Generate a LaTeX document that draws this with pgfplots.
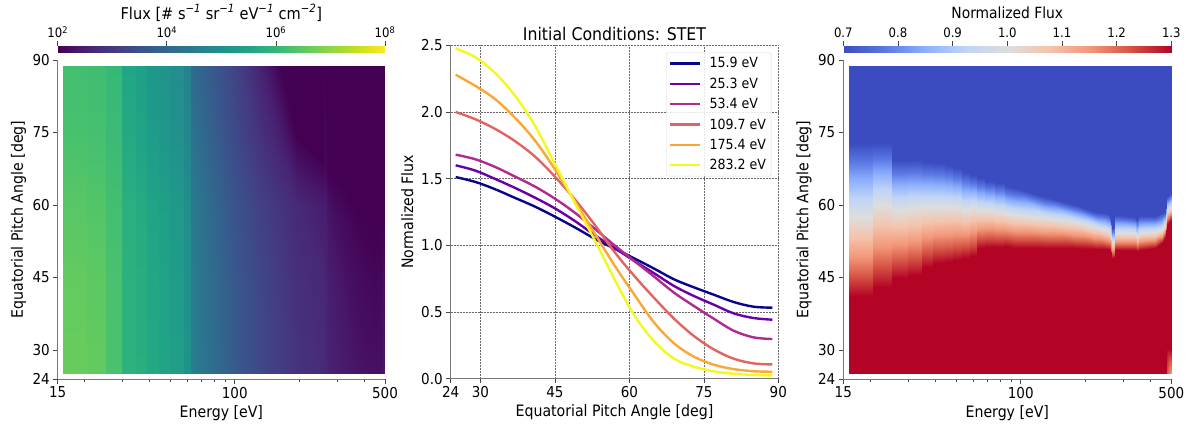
\documentclass[border=0pt]{standalone}
\usepackage{fontspec}
\setmainfont{DejaVu Sans Condensed}
\usepackage{pgfplots}
\pgfplotsset{compat=1.18}
\definecolor{spine}{RGB}{120,120,120}
\definecolor{tickc}{RGB}{70,70,70}
\definecolor{gridc}{RGB}{105,105,105}
\definecolor{c1}{RGB}{8,4,140}
\definecolor{c2}{RGB}{106,0,168}
\definecolor{c3}{RGB}{177,42,144}
\definecolor{c4}{RGB}{225,100,98}
\definecolor{c5}{RGB}{252,166,54}
\definecolor{c6}{RGB}{243,248,33}
\pgfplotsset{
  colormap={coolw}{
    rgb255=(59,76,192) rgb255=(89,119,226) rgb255=(141,176,254) rgb255=(192,212,245)
    rgb255=(221,221,221) rgb255=(244,196,173) rgb255=(244,152,122) rgb255=(213,84,67) rgb255=(180,4,38)},
  mybase/.style={
    scale only axis,
    font=\fontsize{15.5}{18}\selectfont,
    tick label style={font=\fontsize{15}{17}\selectfont},
    label style={font=\fontsize{15.7}{18}\selectfont},
    axis x line*=bottom, axis y line*=left,
    axis line style={spine,line width=0.9pt,-},
    major tick style={tickc,line width=0.6pt},
    minor tick style={tickc,line width=0.5pt},
    tick align=outside,
    major tick length=4.5pt, minor tick length=2.5pt,
    xlabel style={yshift=0pt},
    ylabel style={yshift=1pt},
  },
  myheat/.style={
    mybase,
    view={0}{90},
    ymin=24, ymax=90,
    zmin=-1, zmax=1,
    axis z line=none,
    xtick={15,100,500}, xticklabels={15,100,500},
    minor xtick={20,30,40,50,60,70,80,90,200,300,400},
    ytick={24,30,45,60,75,90}, yticklabels={24,30,45,60,75,90},
    xlabel={Energy [eV]},
    ylabel={Equatorial Pitch Angle [deg]},
    ylabel style={yshift=-1.5pt},
  },
  mybar/.style={
    scale only axis,
    view={0}{90},
    height=6.6pt,
    ymin=0, ymax=1, zmin=-1, zmax=1,
    axis z line=none,
    axis y line=none,
    axis x line*=top,
    axis line style={draw=none},
    ytick=\empty,
    xticklabel pos=upper, xtick pos=upper,
    tick align=outside,
    major tick length=4.5pt,
    major tick style={tickc,line width=0.6pt},
    tick label style={font=\fontsize{13}{15}\selectfont},
  },
  mycurve/.style={#1,line width=2.4pt,smooth,tension=0.55},
}
\begin{document}
\begin{tikzpicture}
\path[use as bounding box] (0,0) rectangle (1189pt,432pt);

% ---------- left colour bar ----------
\begin{axis}[mybar, at={(57.7pt,379.7pt)}, anchor=south west, width=327.3pt,
  xmin=2, xmax=8, colormap/viridis, point meta min=2, point meta max=8,
  xtick={2,4,6,8},
  xticklabels={10\textsuperscript{2},10\textsuperscript{4},10\textsuperscript{6},10\textsuperscript{8}},
  title={Flux [\# s\textsuperscript{\textit{−1}} sr\textsuperscript{\textit{−1}} eV\textsuperscript{\textit{−1}} cm\textsuperscript{\textit{−2}}]},
  title style={font=\fontsize{16.2}{18}\selectfont,yshift=15pt},
]
\addplot3[surf, shader=interp, mesh/rows=2, mesh/ordering=y varies, point meta=x]
 coordinates {(2,0,0)(2,1,0)(8,0,0)(8,1,0)};
\end{axis}

% ---------- left panel ----------
\begin{axis}[myheat, xmode=log, xmin=15, xmax=500, at={(57.7pt,53pt)}, anchor=south west, width=327.3pt, height=319pt,
  colormap/viridis, point meta min=2, point meta max=8,
]
\addplot3[surf, shader=interp, mesh/rows=5, mesh/ordering=y varies, point meta=explicit]
 table[row sep=crcr, x=E, y=a, z expr=0, meta=v] {
E a v\\
15.9 25.2 6.62\\ 15.9 45 6.56\\ 15.9 60 6.44\\ 15.9 75 6.26\\ 15.9 88.8 6.20\\
20.55 25.2 6.62\\ 20.55 45 6.56\\ 20.55 60 6.44\\ 20.55 75 6.26\\ 20.55 88.8 6.20\\
20.6 25.2 6.56\\ 20.6 45 6.50\\ 20.6 60 6.38\\ 20.6 75 6.22\\ 20.6 88.8 6.16\\
25.25 25.2 6.56\\ 25.25 45 6.50\\ 25.25 60 6.38\\ 25.25 75 6.22\\ 25.25 88.8 6.16\\
25.3 25.2 6.29\\ 25.3 45 6.27\\ 25.3 60 6.20\\ 25.3 75 6.08\\ 25.3 88.8 6.03\\
29.95 25.2 6.29\\ 29.95 45 6.27\\ 29.95 60 6.20\\ 29.95 75 6.08\\ 29.95 88.8 6.03\\
30 25.2 5.87\\ 30 45 5.84\\ 30 60 5.78\\ 30 75 5.62\\ 30 88.8 5.54\\
34.65 25.2 5.87\\ 34.65 45 5.84\\ 34.65 60 5.78\\ 34.65 75 5.62\\ 34.65 88.8 5.54\\
34.7 25.2 5.75\\ 34.7 45 5.72\\ 34.7 60 5.65\\ 34.7 75 5.47\\ 34.7 88.8 5.39\\
39.05 25.2 5.75\\ 39.05 45 5.72\\ 39.05 60 5.65\\ 39.05 75 5.47\\ 39.05 88.8 5.39\\
39.1 25.2 5.60\\ 39.1 45 5.56\\ 39.1 60 5.48\\ 39.1 75 5.28\\ 39.1 88.8 5.18\\
44.45 25.2 5.60\\ 44.45 45 5.56\\ 44.45 60 5.48\\ 44.45 75 5.28\\ 44.45 88.8 5.18\\
44.5 25.2 5.51\\ 44.5 45 5.46\\ 44.5 60 5.38\\ 44.5 75 5.18\\ 44.5 88.8 5.09\\
49.95 25.2 5.51\\ 49.95 45 5.46\\ 49.95 60 5.38\\ 49.95 75 5.18\\ 49.95 88.8 5.09\\
50 25.2 5.36\\ 50 45 5.30\\ 50 60 5.22\\ 50 75 5.02\\ 50 88.8 4.94\\
57.95 25.2 5.36\\ 57.95 45 5.30\\ 57.95 60 5.22\\ 57.95 75 5.02\\ 57.95 88.8 4.94\\
58 25.2 5.06\\ 58 45 5.00\\ 58 60 4.92\\ 58 75 4.72\\ 58 88.8 4.64\\
62.65 25.2 5.06\\ 62.65 45 5.00\\ 62.65 60 4.92\\ 62.65 75 4.72\\ 62.65 88.8 4.64\\
62.7 25.2 4.58\\ 62.7 45 4.55\\ 62.7 60 4.48\\ 62.7 75 4.30\\ 62.7 88.8 4.10\\
75 25.2 4.22\\ 75 45 4.18\\ 75 60 4.10\\ 75 75 3.90\\ 75 88.8 3.75\\
100 25.2 3.68\\ 100 45 3.62\\ 100 60 3.52\\ 100 75 3.30\\ 100 88.8 3.20\\
130 25.2 3.32\\ 130 45 3.27\\ 130 60 3.15\\ 130 75 2.85\\ 130 88.8 2.60\\
160 25.2 3.08\\ 160 45 3.02\\ 160 60 2.90\\ 160 75 2.50\\ 160 88.8 2.02\\
195 25.2 2.87\\ 195 45 2.80\\ 195 60 2.68\\ 195 74.1 2.00\\ 195 88.8 2.00\\
257 25.2 2.72\\ 257 45 2.66\\ 257 60 2.45\\ 257 68.7 2.00\\ 257 88.8 2.00\\
264 25.2 2.66\\ 264 45 2.62\\ 264 60 2.48\\ 264 69 2.12\\ 264 88.8 2.00\\
272 25.2 2.58\\ 272 45 2.50\\ 272 60 2.28\\ 272 66.5 2.00\\ 272 88.8 2.00\\
300 25.2 2.48\\ 300 45 2.38\\ 300 58 2.20\\ 300 64.9 2.00\\ 300 88.8 2.00\\
350 25.2 2.36\\ 350 45 2.20\\ 350 55 2.10\\ 350 60.7 2.00\\ 350 88.8 2.00\\
400 25.2 2.27\\ 400 45 2.13\\ 400 52 2.04\\ 400 58.5 2.00\\ 400 88.8 2.00\\
450 25.2 2.24\\ 450 45 2.08\\ 450 50 2.02\\ 450 56.5 2.00\\ 450 88.8 2.00\\
485 25.2 2.26\\ 485 45 2.12\\ 485 50 2.05\\ 485 55.5 2.00\\ 485 88.8 2.00\\
490 25.2 2.36\\ 490 45 2.22\\ 490 50 2.12\\ 490 57 2.00\\ 490 88.8 2.00\\
500 25.2 2.36\\ 500 45 2.22\\ 500 50 2.12\\ 500 57 2.00\\ 500 88.8 2.00\\
};
\end{axis}

% ---------- centre panel ----------
\begin{axis}[mybase, at={(450.7pt,53.3pt)}, anchor=south west, width=327.6pt, height=333.4pt,
  xmin=24, xmax=90, ymin=0, ymax=2.5,
  xtick={24,30,45,60,75,90}, xticklabels={24,30,45,60,75,90},
  ytick={0,0.5,1,1.5,2,2.5}, yticklabels={0.0,0.5,1.0,1.5,2.0,2.5},
  grid=major,
  grid style={gridc,line width=0.5pt,densely dotted},
  xlabel={Equatorial Pitch Angle [deg]},
  ylabel={Normalized Flux},
  title={Initial Conditions: STET},
  title style={font=\fontsize{17.5}{20}\selectfont,yshift=-4.5pt},
  legend style={at={(1,1)},anchor=north east,xshift=-7pt,yshift=-7pt,
    draw=black!15,rounded corners=2pt,fill=white,fill opacity=0.85,text opacity=1,
    font=\fontsize{14}{15}\selectfont,inner xsep=3pt,inner ysep=3pt,
    row sep=4.5pt},
  legend cell align=left,
  legend image code/.code={\draw[#1,sharp plot] (0pt,0pt)--(30pt,0pt); \path (36pt,0pt);},
]
\addplot[mycurve=c1] coordinates {(25,1.512)(29,1.475)(33,1.42)(37,1.355)(41,1.29)(45,1.215)(49,1.135)(53,1.05)(57,0.975)(61,0.902)(65,0.825)(69,0.745)(73,0.685)(77,0.63)(81,0.575)(85,0.54)(88.8,0.5325)};
\addplot[mycurve=c2] coordinates {(25,1.6)(29,1.56)(33,1.497)(37,1.43)(41,1.357)(45,1.277)(49,1.183)(53,1.077)(57,0.98)(61,0.883)(65,0.79)(69,0.695)(73,0.62)(77,0.555)(81,0.49)(85,0.455)(88.8,0.4425)};
\addplot[mycurve=c3] coordinates {(25,1.68)(29,1.645)(33,1.587)(37,1.515)(41,1.44)(45,1.35)(49,1.245)(53,1.125)(57,1.0)(61,0.882)(65,0.765)(69,0.645)(73,0.545)(77,0.45)(81,0.36)(85,0.31)(88.8,0.2975)};
\addplot[mycurve=c4] coordinates {(25,2.0)(29,1.945)(33,1.872)(37,1.78)(41,1.665)(45,1.515)(49,1.345)(53,1.155)(57,0.95)(61,0.77)(65,0.605)(69,0.45)(73,0.32)(77,0.22)(81,0.15)(85,0.115)(88.8,0.107)};
\addplot[mycurve=c5] coordinates {(25,2.279)(29,2.195)(33,2.095)(37,1.955)(41,1.785)(45,1.57)(49,1.33)(53,1.09)(57,0.85)(61,0.63)(65,0.42)(69,0.265)(73,0.165)(77,0.105)(81,0.072)(85,0.056)(88.8,0.052)};
\addplot[mycurve=c6] coordinates {(25,2.477)(29,2.41)(33,2.29)(37,2.12)(41,1.895)(45,1.61)(49,1.32)(53,1.04)(57,0.745)(61,0.475)(65,0.28)(69,0.15)(73,0.09)(77,0.055)(81,0.037)(85,0.028)(88.8,0.025)};
\legend{15.9 eV,25.3 eV,53.4 eV,109.7 eV,175.4 eV,283.2 eV}
\end{axis}

% ---------- right colour bar ----------
\begin{axis}[mybar, at={(843.3pt,379.7pt)}, anchor=south west, width=328pt,
  xmin=0.7, xmax=1.3, colormap name=coolw, point meta min=0.7, point meta max=1.3,
  xtick={0.7,0.8,0.9,1.0,1.1,1.2,1.3},
  xticklabels={0.7,0.8,0.9,1.0,1.1,1.2,1.3},
  title={Normalized Flux},
  title style={font=\fontsize{15.4}{18}\selectfont,yshift=17pt},
]
\addplot3[surf, shader=interp, mesh/rows=2, mesh/ordering=y varies, point meta=x]
 coordinates {(0.7,0,0)(0.7,1,0)(1.3,0,0)(1.3,1,0)};
\end{axis}

% ---------- right panel ----------
\begin{axis}[myheat, xmode=log, xmin=15, xmax=500, at={(843.3pt,53pt)}, anchor=south west, width=328pt, height=319pt,
  colormap name=coolw, point meta min=0.7, point meta max=1.3,
]
\addplot3[surf, shader=interp, mesh/rows=6, mesh/ordering=y varies, point meta=explicit]
 table[row sep=crcr, x=E, y=a, z expr=0, meta=v] {
E a v\\
15.9 25.2 1.3\\ 15.9 30.3 1.3\\ 15.9 41.2 1.3\\ 15.9 57.6 1.0\\ 15.9 72.8 0.7\\ 15.9 88.8 0.7\\
20.55 25.2 1.3\\ 20.55 30.3 1.3\\ 20.55 41.2 1.3\\ 20.55 57.6 1.0\\ 20.55 72.8 0.7\\ 20.55 88.8 0.7\\
20.6 25.2 1.3\\ 20.6 30.3 1.3\\ 20.6 43.1 1.3\\ 20.6 60.0 1.0\\ 20.6 72.8 0.7\\ 20.6 88.8 0.7\\
25.25 25.2 1.3\\ 25.25 30.3 1.3\\ 25.25 43.1 1.3\\ 25.25 60.0 1.0\\ 25.25 72.8 0.7\\ 25.25 88.8 0.7\\
25.3 25.2 1.3\\ 25.3 30.3 1.3\\ 25.3 44.9 1.3\\ 25.3 59.0 1.0\\ 25.3 69.3 0.7\\ 25.3 88.8 0.7\\
29.95 25.2 1.3\\ 29.95 30.3 1.3\\ 29.95 44.9 1.3\\ 29.95 59.0 1.0\\ 29.95 69.3 0.7\\ 29.95 88.8 0.7\\
30 25.2 1.3\\ 30 30.3 1.3\\ 30 45.5 1.3\\ 30 59.4 1.0\\ 30 69.3 0.7\\ 30 88.8 0.7\\
34.65 25.2 1.3\\ 34.65 30.3 1.3\\ 34.65 45.5 1.3\\ 34.65 59.4 1.0\\ 34.65 69.3 0.7\\ 34.65 88.8 0.7\\
34.7 25.2 1.3\\ 34.7 30.3 1.3\\ 34.7 47.2 1.3\\ 34.7 59.6 1.0\\ 34.7 68.9 0.7\\ 34.7 88.8 0.7\\
39.05 25.2 1.3\\ 39.05 30.3 1.3\\ 39.05 47.2 1.3\\ 39.05 59.6 1.0\\ 39.05 68.9 0.7\\ 39.05 88.8 0.7\\
39.1 25.2 1.3\\ 39.1 30.3 1.3\\ 39.1 48.0 1.3\\ 39.1 59.6 1.0\\ 39.1 68.7 0.7\\ 39.1 88.8 0.7\\
44.45 25.2 1.3\\ 44.45 30.3 1.3\\ 44.45 48.0 1.3\\ 44.45 59.6 1.0\\ 44.45 68.7 0.7\\ 44.45 88.8 0.7\\
44.5 25.2 1.3\\ 44.5 30.3 1.3\\ 44.5 48.2 1.3\\ 44.5 59.6 1.0\\ 44.5 68.3 0.7\\ 44.5 88.8 0.7\\
48.45 25.2 1.3\\ 48.45 30.3 1.3\\ 48.45 48.2 1.3\\ 48.45 59.6 1.0\\ 48.45 68.3 0.7\\ 48.45 88.8 0.7\\
48.5 25.2 1.3\\ 48.5 30.3 1.3\\ 48.5 48.6 1.3\\ 48.5 59.6 1.0\\ 48.5 67.7 0.7\\ 48.5 88.8 0.7\\
53.35 25.2 1.3\\ 53.35 30.3 1.3\\ 53.35 48.6 1.3\\ 53.35 59.6 1.0\\ 53.35 67.7 0.7\\ 53.35 88.8 0.7\\
53.4 25.2 1.3\\ 53.4 30.3 1.3\\ 53.4 49.0 1.3\\ 53.4 59.0 1.0\\ 53.4 66.8 0.7\\ 53.4 88.8 0.7\\
58.05 25.2 1.3\\ 58.05 30.3 1.3\\ 58.05 49.0 1.3\\ 58.05 59.0 1.0\\ 58.05 66.8 0.7\\ 58.05 88.8 0.7\\
58.1 25.2 1.3\\ 58.1 30.3 1.3\\ 58.1 49.4 1.3\\ 58.1 59.4 1.0\\ 58.1 66.2 0.7\\ 58.1 88.8 0.7\\
62.55 25.2 1.3\\ 62.55 30.3 1.3\\ 62.55 49.4 1.3\\ 62.55 59.4 1.0\\ 62.55 66.2 0.7\\ 62.55 88.8 0.7\\
62.6 25.2 1.3\\ 62.6 30.3 1.3\\ 62.6 51.1 1.3\\ 62.6 59.0 1.0\\ 62.6 65.6 0.7\\ 62.6 88.8 0.7\\
68.15 25.2 1.3\\ 68.15 30.3 1.3\\ 68.15 51.1 1.3\\ 68.15 59.0 1.0\\ 68.15 65.6 0.7\\ 68.15 88.8 0.7\\
68.2 25.2 1.3\\ 68.2 30.3 1.3\\ 68.2 51.3 1.3\\ 68.2 58.9 1.0\\ 68.2 65.0 0.7\\ 68.2 88.8 0.7\\
75.85 25.2 1.3\\ 75.85 30.3 1.3\\ 75.85 51.3 1.3\\ 75.85 58.9 1.0\\ 75.85 65.0 0.7\\ 75.85 88.8 0.7\\
75.9 25.2 1.3\\ 75.9 30.3 1.3\\ 75.9 51.3 1.3\\ 75.9 58.6 1.0\\ 75.9 64.6 0.7\\ 75.9 88.8 0.7\\
84.55 25.2 1.3\\ 84.55 30.3 1.3\\ 84.55 51.3 1.3\\ 84.55 58.6 1.0\\ 84.55 64.6 0.7\\ 84.55 88.8 0.7\\
84.6 25.2 1.3\\ 84.6 30.3 1.3\\ 84.6 51.5 1.3\\ 84.6 58.4 1.0\\ 84.6 64.0 0.7\\ 84.6 88.8 0.7\\
94 25.2 1.3\\ 94 30.3 1.3\\ 94 51.1 1.3\\ 94 57.9 1.0\\ 94 63.5 0.7\\ 94 88.8 0.7\\
129.6 25.2 1.3\\ 129.6 30.3 1.3\\ 129.6 51.1 1.3\\ 129.6 57.3 1.0\\ 129.6 61.7 0.7\\ 129.6 88.8 0.7\\
178.6 25.2 1.3\\ 178.6 30.3 1.3\\ 178.6 51.1 1.3\\ 178.6 56.5 1.0\\ 178.6 60.0 0.7\\ 178.6 88.8 0.7\\
221.2 25.2 1.3\\ 221.2 30.3 1.3\\ 221.2 50.9 1.3\\ 221.2 55.4 1.0\\ 221.2 58.6 0.7\\ 221.2 88.8 0.7\\
246 25.2 1.3\\ 246 30.3 1.3\\ 246 50.9 1.3\\ 246 54.8 1.0\\ 246 58.3 0.7\\ 246 88.8 0.7\\
259.6 25.2 1.3\\ 259.6 30.3 1.3\\ 259.6 50.7 1.3\\ 259.6 54.4 1.0\\ 259.6 57.9 0.7\\ 259.6 88.8 0.7\\
265.3 25.2 1.3\\ 265.3 30.3 1.3\\ 265.3 49.0 1.3\\ 265.3 52.3 1.0\\ 265.3 55.2 0.7\\ 265.3 88.8 0.7\\
271.2 25.2 1.3\\ 271.2 30.3 1.3\\ 271.2 49.0 1.3\\ 271.2 52.3 1.0\\ 271.2 55.2 0.7\\ 271.2 88.8 0.7\\
274 25.2 1.3\\ 274 30.3 1.3\\ 274 50.7 1.3\\ 274 54.2 1.0\\ 274 57.9 0.7\\ 274 88.8 0.7\\
339 25.2 1.3\\ 339 30.3 1.3\\ 339 50.7 1.3\\ 339 54.2 1.0\\ 339 57.5 0.7\\ 339 88.8 0.7\\
346.5 25.2 1.3\\ 346.5 30.3 1.3\\ 346.5 50.5 1.3\\ 346.5 53.4 1.0\\ 346.5 56.9 0.7\\ 346.5 88.8 0.7\\
354 25.2 1.3\\ 354 30.3 1.3\\ 354 50.7 1.3\\ 354 54.2 1.0\\ 354 57.7 0.7\\ 354 88.8 0.7\\
420 25.2 1.3\\ 420 30.3 1.3\\ 420 51.1 1.3\\ 420 54.4 1.0\\ 420 57.7 0.7\\ 420 88.8 0.7\\
453 25.2 1.3\\ 453 30.3 1.3\\ 453 52.1 1.3\\ 453 54.8 1.0\\ 453 58.3 0.7\\ 453 88.8 0.7\\
468 25.2 1.3\\ 468 30.3 1.3\\ 468 53.4 1.3\\ 468 55.9 1.0\\ 468 58.6 0.7\\ 468 88.8 0.7\\
476 25.2 1.3\\ 476 30.3 1.3\\ 476 55.5 1.3\\ 476 58.8 1.0\\ 476 61.5 0.7\\ 476 88.8 0.7\\
478.6 25.2 1.22\\ 478.6 30.3 1.3\\ 478.6 55.9 1.3\\ 478.6 59.0 1.0\\ 478.6 61.7 0.7\\ 478.6 88.8 0.7\\
500 25.2 1.15\\ 500 30.3 1.3\\ 500 56.9 1.3\\ 500 59.6 1.0\\ 500 62.5 0.7\\ 500 88.8 0.7\\
};
\end{axis}
\end{tikzpicture}
\end{document}
